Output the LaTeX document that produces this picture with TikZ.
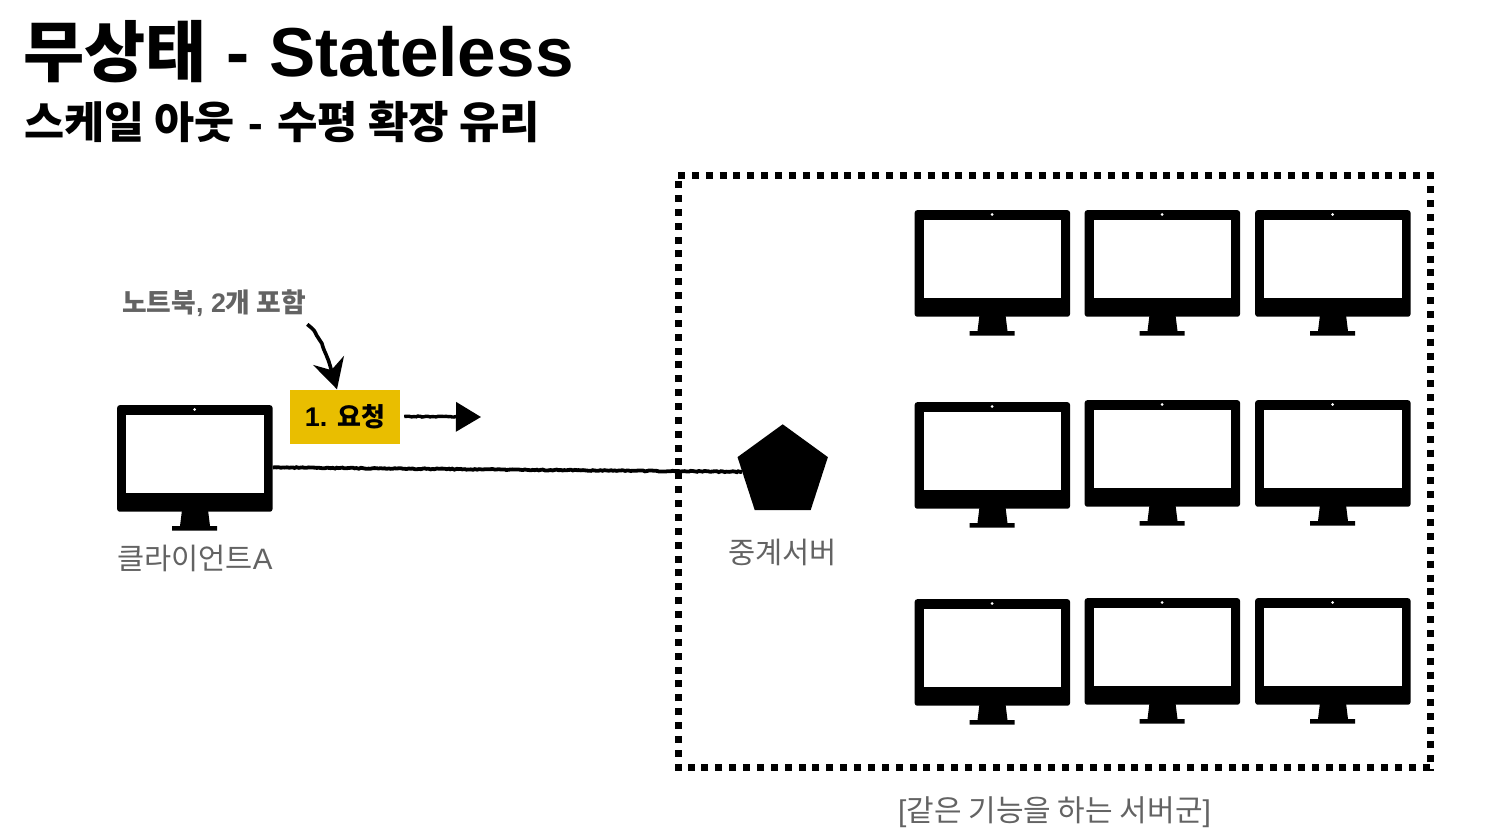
\documentclass[tikz,border=0pt]{standalone}
\usepackage{fontspec}
\setmainfont{Liberation Sans}
\newfontfamily\kr{Noto Sans CJK KR}
\usetikzlibrary{shapes.geometric,arrows.meta,decorations.pathmorphing}
\definecolor{graytxt}{HTML}{636363}
\definecolor{reqyellow}{HTML}{E9BE00}
\tikzset{
  x=1pt,y=-1pt,
  monitor/.pic={
    \node[fill=black,rounded corners=2.5pt,minimum width=155.3pt,minimum height=106.5pt,inner sep=0pt,anchor=north west] (-body) at (0,0) {};
    \fill[white] (9,10) rectangle (146.7,88.3);
    \fill[white] (77.6,4.4) circle (1.5);
    \fill[black] (65,105) -- (91,105) -- (93,121) -- (100,121) -- (100,125.5) -- (55,125.5) -- (55,121) -- (63,121) -- cycle;
  },
  rough/.style={draw=black,line width=3.8pt,decorate,decoration={random steps,segment length=2pt,amplitude=.5pt}},
  frameline/.style={draw=black,line width=7pt,dash pattern=on 7pt off 6.87pt},
  cap label/.style={text=graytxt,inner sep=0pt,anchor=base west},
  handtip/.style={-{Stealth[length=30pt,width=32pt,inset=10pt]},draw=black,line width=3.6pt,decorate,decoration={random steps,segment length=3pt,amplitude=.4pt,post length=26pt}},
  handtiptwo/.style={-{Triangle[length=25pt,width=29pt]},draw=black,line width=3.4pt,decorate,decoration={random steps,segment length=2pt,amplitude=.5pt,post length=20pt}}
}
\begin{document}
\begin{tikzpicture}
\useasboundingbox (0,0) rectangle (1509,827);
% titles
\node[inner sep=0pt,anchor=base west,font=\bfseries\fontsize{69.3}{70}\selectfont] (title) at (23,76) {{\fontsize{66.5}{66}\selectfont\kr 무상태}\hspace{1pt} - Stateless};
\node[inner sep=0pt,anchor=base west,font=\bfseries\fontsize{44}{44}\selectfont] (subtitle) at (24,138) {{\fontsize{43.6}{44}\selectfont\kr 스케일 아웃}\hspace{1.5pt} - \hspace{2pt}{\kr 수평 확장 유리}};
% server group frame
\draw[frameline] (678,175.7) -- (1433.5,175.7);
\draw[frameline] (1430.5,172.3) -- (1430.5,771);
\draw[frameline] (1429.7,767.5) -- (674.7,767.5);
\draw[frameline] (678,770.6) -- (678,179);
% client
\pic (client) at (117,405) {monitor};
\node[cap label,font=\fontsize{29.5}{30}\selectfont] (clientlabel) at (117,569) {{\kr 클라이언트}A};
% relay
\node[regular polygon,regular polygon sides=5,minimum size=95pt,inner sep=0pt,fill=black] (relay) at (782.7,471.8) {};
\node[cap label,font=\fontsize{29.5}{29}\selectfont] (relaylabel) at (728,563) {\kr 중계서버};
% connection
\draw[rough] ([yshift=-9pt]client-body.east) -- (relay.west);
% request
\node[fill=reqyellow,minimum width=110pt,minimum height=54pt,inner sep=0pt,font=\bfseries\fontsize{27}{27}\selectfont] (req) at (345,416.5) {1. {\fontsize{26}{26}\selectfont\kr 요청}};
\coordinate (reqend) at (481,417);
\draw[handtiptwo] ([xshift=4pt]req.east) -- (reqend);
% note
\node[cap label,font=\bfseries\fontsize{26.8}{26}\selectfont] (note) at (122,312) {{\kr 노트북}, 2{\kr 개 포함}};
\draw[handtip] ([shift={(1pt,-8pt)}]note.south east) .. controls +(13,10) and +(-9,-33) .. ([xshift=-8pt]req.north);
% servers
\pic (s11) at (914.5,210) {monitor};
\pic (s12) at (1084.5,210) {monitor};
\pic (s13) at (1255,210) {monitor};
\pic (s21) at (914.5,402) {monitor};
\pic (s22) at (1084.5,400) {monitor};
\pic (s23) at (1255,400) {monitor};
\pic (s31) at (914.5,599) {monitor};
\pic (s32) at (1084.5,598) {monitor};
\pic (s33) at (1255,598) {monitor};
\node[cap label,font=\fontsize{30}{30}\selectfont] (grouplabel) at (898,821) {[{\kr 같은 기능을 하는 서버군}]};
\end{tikzpicture}
\end{document}
